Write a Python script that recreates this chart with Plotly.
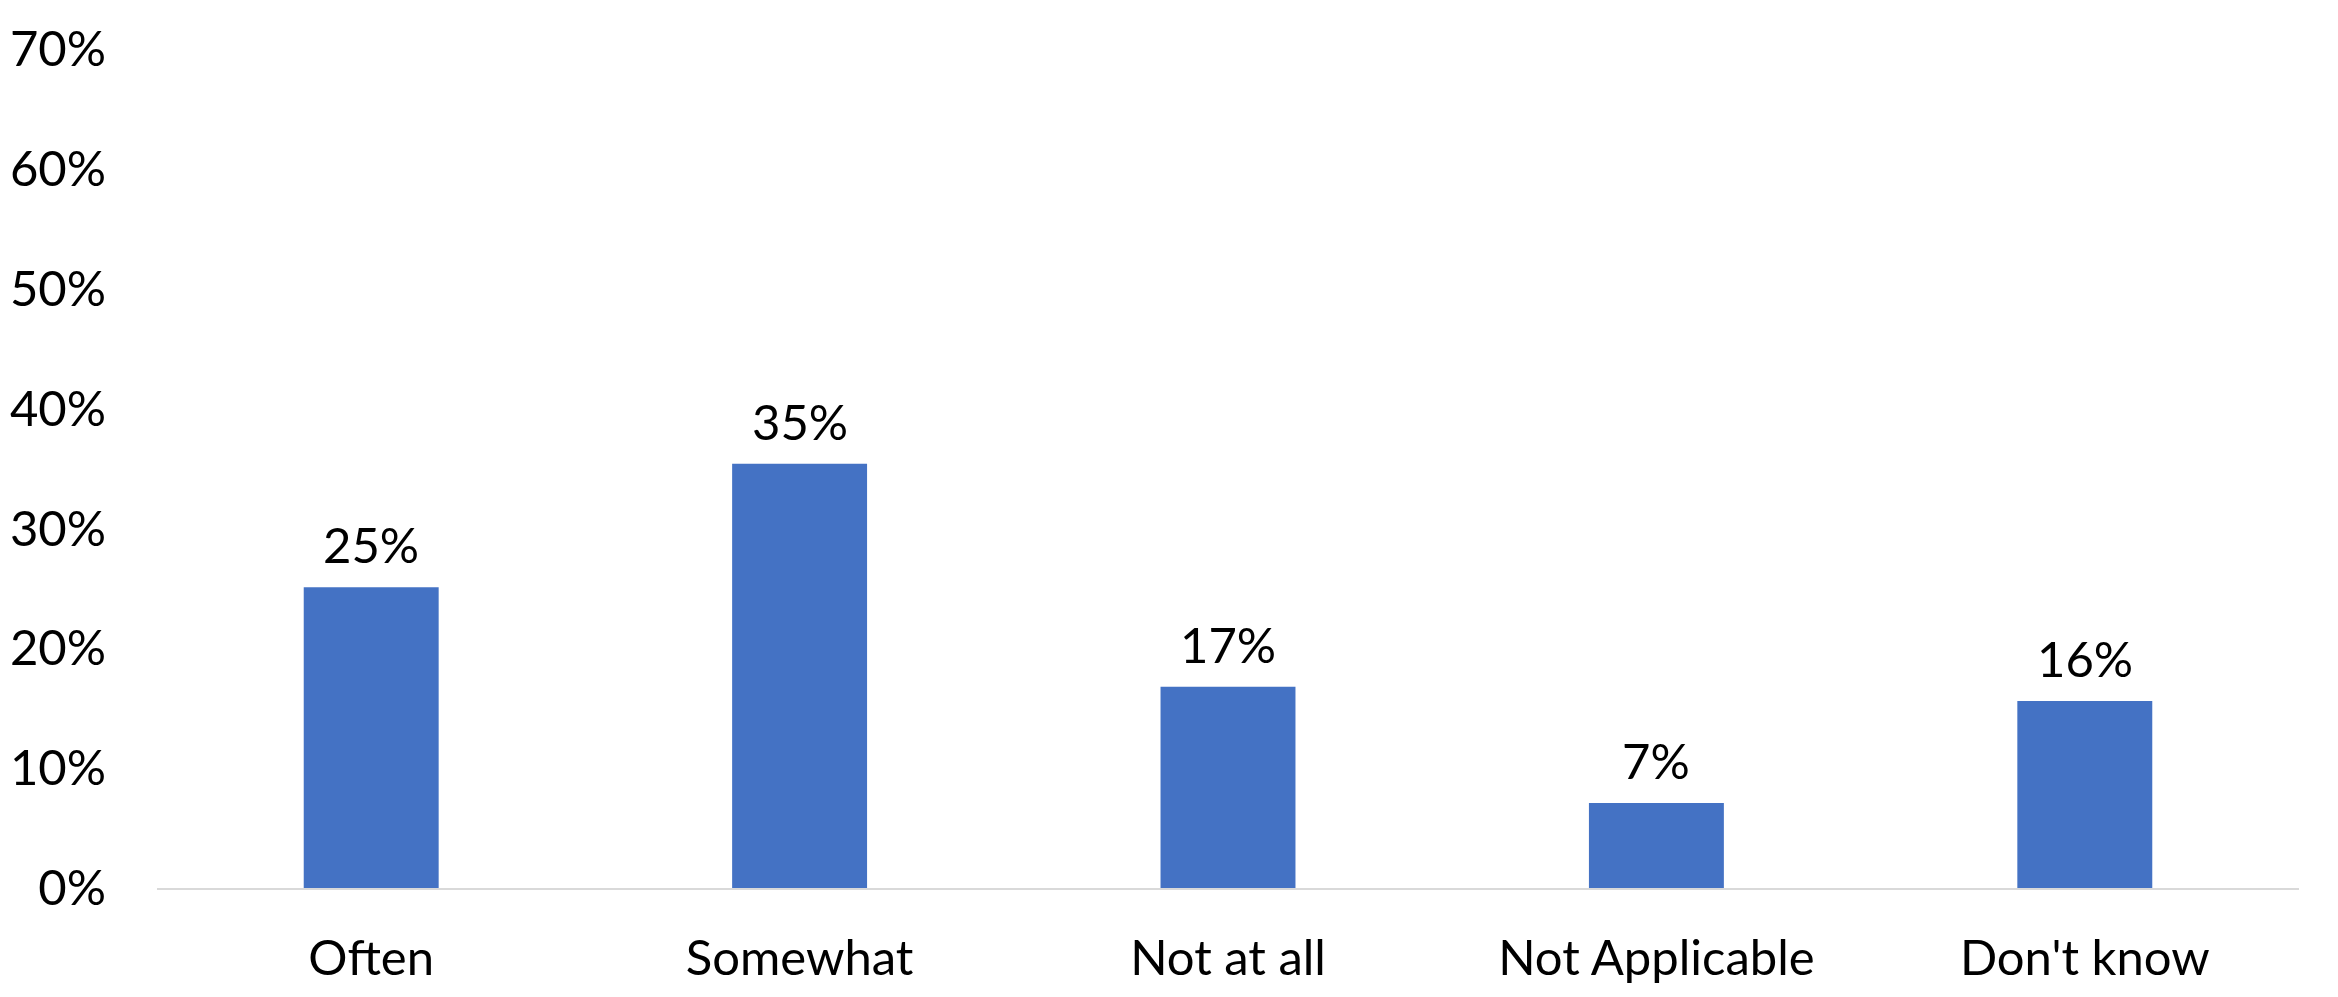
import plotly.graph_objects as go

categories = ["Often", "Somewhat", "Not at all", "Not Applicable", "Don't know"]
shares = [0.251, 0.354, 0.168, 0.071, 0.156]
y_ticks = [0, 0.1, 0.2, 0.3, 0.4, 0.5, 0.6, 0.7]

BAR_BLUE = "#4472C4"
FONT = "Lato"
SIZE = 49

fig = go.Figure(go.Bar(x=categories, y=shares, marker=dict(color=BAR_BLUE, line=dict(width=0)),
                       hoverinfo="skip"))

# value labels sit a fixed gap above each bar
for cat, val in zip(categories, shares):
    fig.add_annotation(x=cat, y=val, text=f"{val:.0%}", showarrow=False, yanchor="bottom",
                       yshift=12, font=dict(family=FONT, size=SIZE, color="black"))

# the page body adds an 8px offset, so the figure is sized to the window minus that
fig.update_layout(
    width=2330, height=989,
    margin=dict(l=149, r=39, t=41, b=109),
    paper_bgcolor="white", plot_bgcolor="white",
    bargap=0.685, showlegend=False,
    font=dict(family=FONT, size=SIZE, color="black"),
)
fig.update_xaxes(showline=True, linecolor="#d9d9d9", linewidth=2, showgrid=False,
                 ticks="outside", ticklen=26, tickcolor="rgba(0,0,0,0)", automargin=False,
                 tickfont=dict(family=FONT, size=SIZE, color="black"))
fig.update_yaxes(range=[0, 0.7], tickvals=y_ticks, tickformat=".0%", showgrid=False,
                 zeroline=False, showline=False, ticklabelstandoff=50, automargin=False,
                 tickfont=dict(family=FONT, size=SIZE, color="black"))

fig.write_html("out.html")
